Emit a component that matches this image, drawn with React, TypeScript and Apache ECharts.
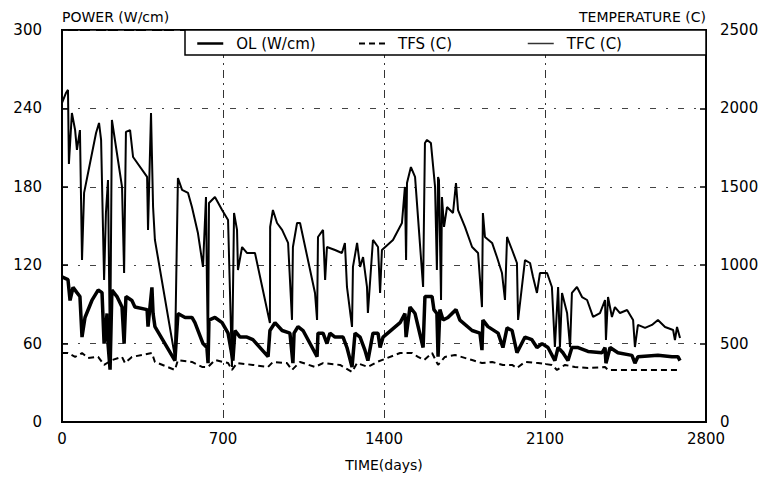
import React, { useEffect, useRef } from "react";
import * as echarts from "echarts";

// Time axis (days)
const xTicks = [0, 700, 1400, 2100, 2800];

// OL linear power (W/cm) — left axis
const olDays = [0, 26, 35, 48, 65, 78, 87, 100, 130, 157, 174, 183, 196, 200, 209, 217, 239, 261, 270, 278, 304, 317, 370, 374, 391, 396, 404, 491, 504, 535, 565, 578, 613, 630, 635, 639, 665, 696, 722, 743, 752, 774, 804, 830, 896, 904, 926, 957, 991, 1004, 1009, 1026, 1048, 1109, 1113, 1135, 1152, 1165, 1187, 1222, 1239, 1261, 1274, 1296, 1317, 1330, 1352, 1374, 1383, 1396, 1470, 1491, 1496, 1513, 1535, 1570, 1578, 1609, 1617, 1630, 1635, 1643, 1657, 1678, 1713, 1730, 1783, 1817, 1826, 1830, 1852, 1896, 1917, 1935, 1957, 1978, 2013, 2043, 2065, 2087, 2113, 2143, 2157, 2178, 2200, 2217, 2244, 2287, 2348, 2361, 2365, 2383, 2417, 2478, 2491, 2504, 2591, 2652, 2678, 2687];
const olPower = [111, 109, 93, 103, 99, 96, 65, 80, 93, 101, 99, 60, 83, 60, 40, 101, 96, 88, 60, 96, 93, 88, 86, 73, 103, 83, 73, 47, 83, 80, 80, 76, 60, 57, 45, 78, 80, 76, 68, 47, 70, 65, 65, 63, 50, 70, 76, 70, 68, 45, 68, 73, 70, 50, 68, 68, 60, 68, 65, 65, 57, 42, 68, 65, 55, 47, 68, 68, 57, 65, 76, 83, 65, 88, 83, 57, 96, 96, 86, 83, 50, 86, 78, 80, 86, 78, 70, 68, 55, 78, 73, 68, 57, 72, 70, 53, 65, 63, 57, 60, 57, 47, 57, 53, 47, 57, 57, 54, 53, 57, 45, 57, 53, 51, 45, 50, 51, 50, 50, 47];

// TFS fuel surface temperature (C) — right axis
const tfsDays = [0, 26, 57, 87, 113, 157, 183, 217, 261, 274, 304, 391, 404, 491, 504, 565, 609, 635, 665, 722, 739, 761, 830, 896, 917, 978, 1000, 1035, 1100, 1135, 1209, 1261, 1283, 1330, 1370, 1470, 1522, 1548, 1574, 1609, 1635, 1665, 1709, 1783, 1826, 1870, 1917, 1957, 1978, 2013, 2070, 2130, 2152, 2187, 2230, 2287, 2361, 2374, 2491, 2591, 2687];
const tfsTemp = [440, 440, 415, 440, 408, 415, 364, 395, 415, 376, 415, 440, 383, 332, 395, 383, 351, 351, 395, 376, 332, 376, 364, 351, 383, 376, 332, 383, 351, 376, 364, 319, 376, 351, 383, 440, 440, 415, 395, 440, 364, 415, 427, 395, 376, 383, 364, 364, 344, 383, 376, 364, 332, 364, 351, 344, 351, 332, 332, 332, 332];

// TFC fuel centre temperature (C) — right axis
const tfcDays = [0, 17, 26, 30, 43, 57, 65, 78, 87, 96, 148, 161, 170, 183, 191, 200, 209, 217, 261, 270, 278, 296, 309, 370, 374, 387, 396, 404, 491, 504, 522, 548, 565, 591, 613, 626, 630, 635, 639, 665, 696, 722, 739, 748, 761, 765, 783, 804, 839, 904, 905, 917, 935, 957, 983, 1000, 1004, 1022, 1035, 1100, 1109, 1113, 1135, 1144, 1152, 1187, 1217, 1230, 1239, 1261, 1265, 1283, 1296, 1309, 1326, 1330, 1352, 1374, 1383, 1391, 1439, 1478, 1491, 1496, 1500, 1517, 1535, 1570, 1578, 1587, 1604, 1622, 1630, 1635, 1639, 1648, 1652, 1661, 1674, 1700, 1713, 1722, 1752, 1783, 1809, 1826, 1830, 1839, 1870, 1891, 1913, 1926, 1935, 1957, 1978, 1983, 2013, 2035, 2048, 2065, 2078, 2109, 2130, 2143, 2157, 2165, 2174, 2196, 2209, 2217, 2239, 2261, 2283, 2309, 2339, 2361, 2365, 2374, 2391, 2404, 2426, 2457, 2483, 2491, 2504, 2535, 2565, 2591, 2622, 2657, 2665, 2674, 2687];
const tfcTemp = [2035, 2098, 2118, 1646, 1971, 1862, 1735, 1862, 1033, 1461, 1843, 1907, 1799, 906, 1333, 1543, 364, 1926, 1499, 950, 1850, 1862, 1690, 1563, 1225, 1971, 1371, 1161, 415, 1556, 1480, 1461, 1371, 1205, 989, 1435, 906, 415, 1397, 1435, 1352, 1288, 351, 1333, 1225, 969, 1116, 1078, 1078, 631, 1244, 1352, 1269, 1225, 1142, 651, 1116, 1269, 1269, 823, 651, 1180, 1225, 906, 1116, 1097, 1078, 1142, 861, 606, 989, 1142, 989, 1052, 861, 695, 1161, 1116, 823, 1097, 1161, 1269, 1499, 1033, 1524, 1626, 1563, 861, 1779, 1799, 1779, 1499, 969, 1563, 1543, 778, 1435, 1244, 1371, 1333, 1524, 1352, 1244, 1116, 1078, 733, 1333, 1180, 1142, 1052, 950, 778, 1180, 1097, 1014, 651, 1033, 1014, 925, 823, 950, 950, 861, 478, 861, 478, 823, 695, 478, 823, 861, 797, 778, 670, 695, 778, 523, 797, 670, 733, 695, 714, 651, 478, 619, 600, 619, 651, 606, 587, 523, 606, 536];

const zip = (xs: number[], ys: number[]) => xs.map((x, i) => [x, ys[i]]);

const FONT = "DejaVu Sans";
const plain = (v: number) => String(v);

export default function App() {
  const ref = useRef<HTMLDivElement>(null);
  useEffect(() => {
    document.body.style.margin = "0";
    const chart = echarts.init(ref.current!, null, { renderer: "svg" });
    const dashDot = [8, 5, 2, 5];
    const legendBase = {
      top: 36,
      itemWidth: 26,
      itemHeight: 12,
      itemGap: 0,
      itemStyle: { opacity: 0 },
      textStyle: { fontFamily: FONT, fontSize: 15, color: "#000", padding: [0, 0, 0, 8] },
      padding: 0,
    };
    chart.setOption({
      animation: false,
      backgroundColor: "#fff",
      textStyle: { fontFamily: FONT },
      grid: { left: 62, right: 67, top: 30, bottom: 62, show: true, borderColor: "#000", borderWidth: 2, backgroundColor: "transparent" },
      legend: [
        { ...legendBase, left: 196, data: [{ name: "OL (W/cm)", lineStyle: { width: 2.5, color: "#000" } }] },
        { ...legendBase, left: 358, data: [{ name: "TFS (C)", lineStyle: { width: 2, color: "#000", type: [6, 4] } }] },
        { ...legendBase, left: 527, data: [{ name: "TFC (C)", lineStyle: { width: 1.5, color: "#333" } }] },
      ],
      graphic: [
        { type: "rect", z: 3, shape: { x: 185, y: 30, width: 521, height: 25 }, style: { fill: "#fff", stroke: "#000", lineWidth: 1.5 } },
      ],
      xAxis: {
        type: "value",
        min: xTicks[0],
        max: xTicks[xTicks.length - 1],
        interval: 700,
        name: "TIME(days)",
        nameLocation: "middle",
        nameGap: 36,
        nameTextStyle: { fontFamily: FONT, fontSize: 14, color: "#000" },
        axisLine: { lineStyle: { color: "#000", width: 2 } },
        axisTick: { show: false },
        axisLabel: { fontFamily: FONT, fontSize: 15, color: "#000", margin: 9, formatter: plain },
        splitLine: { show: true, lineStyle: { color: "#333", width: 1, type: dashDot } },
      },
      yAxis: [
        {
          type: "value",
          min: 0,
          max: 300,
          interval: 60,
          name: "POWER (W/cm)",
          nameLocation: "end",
          nameGap: 6,
          nameTextStyle: { fontFamily: FONT, fontSize: 14, color: "#000", align: "left", verticalAlign: "bottom" },
          axisLine: { show: true, lineStyle: { color: "#000", width: 2 } },
          axisTick: { show: true, inside: true, length: 6, lineStyle: { color: "#000", width: 1.5 } },
          axisLabel: { fontFamily: FONT, fontSize: 15, color: "#000", margin: 20, formatter: plain },
          splitLine: { show: true, lineStyle: { color: "#444", width: 1, type: [6, 10, 2, 10] } },
        },
        {
          type: "value",
          min: 0,
          max: 2500,
          interval: 500,
          position: "right",
          name: "TEMPERATURE (C)",
          nameLocation: "end",
          nameGap: 6,
          nameTextStyle: { fontFamily: FONT, fontSize: 14, color: "#000", align: "right", verticalAlign: "bottom" },
          axisLine: { show: true, lineStyle: { color: "#000", width: 2 } },
          axisTick: { show: true, inside: true, length: 6, lineStyle: { color: "#000", width: 1.5 } },
          axisLabel: { fontFamily: FONT, fontSize: 15, color: "#000", margin: 14, formatter: plain },
          splitLine: { show: false },
        },
      ],
      series: [
        {
          name: "OL (W/cm)",
          type: "line",
          yAxisIndex: 0,
          data: zip(olDays, olPower),
          showSymbol: false,
          symbol: "none",
          lineStyle: { color: "#000", width: 3.5 },
          itemStyle: { color: "#000" },
          z: 4,
        },
        {
          name: "TFS (C)",
          type: "line",
          yAxisIndex: 1,
          data: zip(tfsDays, tfsTemp),
          showSymbol: false,
          symbol: "none",
          lineStyle: { color: "#000", width: 2, type: [6, 4] },
          itemStyle: { color: "#000" },
          z: 3,
        },
        {
          name: "TFC (C)",
          type: "line",
          yAxisIndex: 1,
          data: zip(tfcDays, tfcTemp),
          showSymbol: false,
          symbol: "none",
          lineStyle: { color: "#000", width: 2 },
          itemStyle: { color: "#000" },
          z: 3,
        },
      ],
    });
    return () => chart.dispose();
  }, []);
  return <div ref={ref} style={{ width: 773, height: 484 }} />;
}
